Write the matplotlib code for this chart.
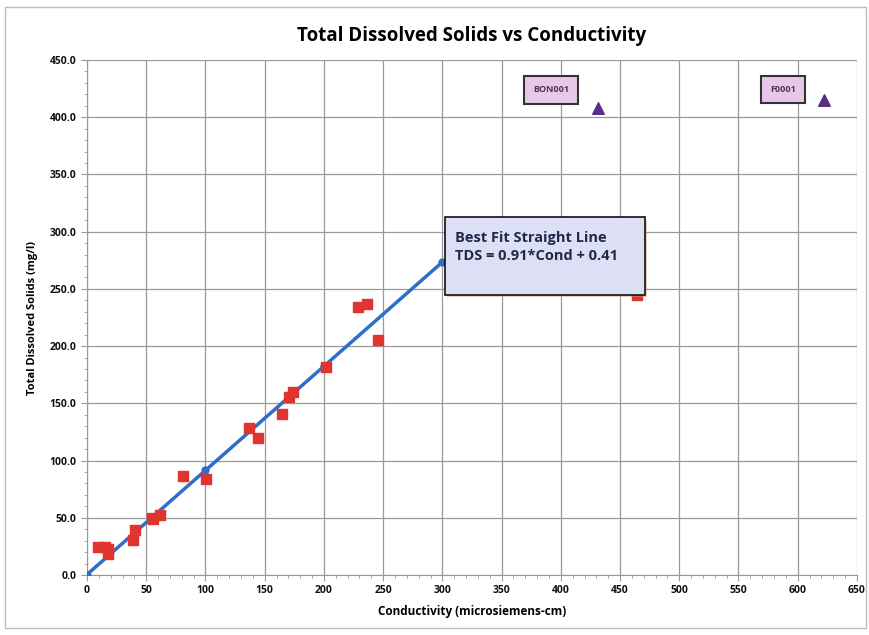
import matplotlib
matplotlib.use('Agg')
import matplotlib.pyplot as plt
from matplotlib.patches import Rectangle
from matplotlib.ticker import MultipleLocator, FormatStrFormatter
import numpy as np

# Muestras medidas (conductividad, TDS)
cond = [9.6, 15.4, 18, 18, 39, 40.5, 55, 56, 61.6, 81.3, 100.5, 137, 144,
        164.3, 170.5, 174, 202, 229, 236, 246, 464]
tds = [24.7, 24.2, 22.5, 18.2, 30.6, 39.3, 50, 48.9, 52.4, 86.5, 83.6, 128.2, 120,
       140.4, 155.5, 160, 182, 234.5, 236.8, 205, 245]

# Muestras atipicas
out_names = ['BON001', 'F0001']
out_cond = [431, 622]
out_tds = [408, 415]
lbl_x = [391.7, 587.5]
lbl_y = [423.8, 424]

# Recta de ajuste
fit_x = np.array([0, 100, 200, 300])
pendiente, ordenada = 0.91, 0.41
fit_y = pendiente * fit_x + ordenada

plt.rcParams['font.family'] = ['Open Sans', 'DejaVu Sans']

fig = plt.figure(figsize=(8.7, 6.35), dpi=100)
ax = fig.add_axes([0.1, 0.0945, 0.885, 0.811])

ax.plot(fit_x, fit_y, color='#2e6fc9', lw=2.5, marker='o', ms=5, zorder=3)
ax.scatter(cond, tds, marker='s', s=42, color='#e0352f', zorder=4)
ax.scatter(out_cond, out_tds, marker='^', s=70, color='#5b2d86', zorder=4)

for n, x, y in zip(out_names, lbl_x, lbl_y):
    ax.text(x, y, n, ha='center', va='center', fontsize=6.5, fontweight='bold', color='#4a3a4a',
            bbox=dict(boxstyle='square,pad=1.0', fc='#e8c8e8', ec='#333333', lw=1.5), zorder=5)

# Cuadro de la ecuacion con sombra
ax.add_patch(Rectangle((304, 242.5), 169, 68, fc='#c8a070', ec='none', zorder=5, alpha=0.5))
ax.add_patch(Rectangle((302, 244.7), 169, 68, fc='#dde0f5', ec='#111111', lw=1.2, zorder=6))
ax.text(311, 301, 'Best Fit Straight Line\nTDS = 0.91*Cond + 0.41', ha='left', va='top',
        fontsize=10.5, fontweight='bold', color='#1f2a4a', linespacing=1.45, zorder=7)

ax.set_xlim(0, 650)
ax.set_ylim(0, 450)
ax.xaxis.set_major_locator(MultipleLocator(50))
ax.yaxis.set_major_locator(MultipleLocator(50))
ax.xaxis.set_minor_locator(MultipleLocator(10))
ax.yaxis.set_minor_locator(MultipleLocator(10))
ax.yaxis.set_major_formatter(FormatStrFormatter('%.1f'))
ax.grid(True, which='major', color='#9a9a9a', lw=0.9)
ax.set_axisbelow(True)
for s in ['top', 'right']:
    ax.spines[s].set_visible(False)
for s in ['left', 'bottom']:
    ax.spines[s].set_color('#9a9a9a')
ax.tick_params(which='both', colors='#9a9a9a', labelcolor='#111111', labelsize=7.5)
ax.tick_params(which='major', length=4)
ax.tick_params(which='minor', length=2)
for lab in ax.get_xticklabels() + ax.get_yticklabels():
    lab.set_fontweight('bold')

ax.set_title('Total Dissolved Solids vs Conductivity', fontsize=13.5, fontweight='bold', pad=14)
ax.set_xlabel('Conductivity (microsiemens-cm)', fontsize=8.5, fontweight='bold', labelpad=6)
ax.set_ylabel('Total Dissolved Solids (mg/l)', fontsize=8, fontweight='bold', labelpad=8)

fig.patches.append(Rectangle((0.006, 0.011), 0.989, 0.978, transform=fig.transFigure,
                             fill=False, ec='#bbbbbb', lw=1))

fig.savefig('out.png', dpi=100)
